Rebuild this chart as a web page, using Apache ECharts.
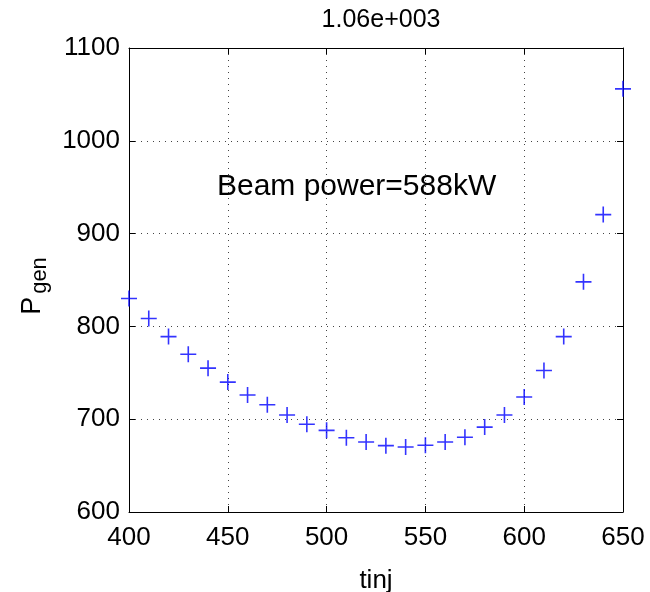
<!DOCTYPE html>
<html><head><meta charset="utf-8">
<script src="https://cdn.jsdelivr.net/npm/echarts@6/dist/echarts.min.js"></script>
<style>html,body{margin:0;padding:0;background:#fff}#c{width:650px;height:592px}</style>
</head><body><div id="c"></div>
<script>
// ---- data ----
const tinj = [400,410,420,430,440,450,460,470,480,490,500,510,520,530,540,550,560,570,580,590,600,610,620,630,640,650];
const pgen = [830,808.5,789,770,755,740,726,715.5,704.5,694.5,688,680,675.5,671.5,670,672,675.5,680.5,691.5,704.5,724,752.5,789,848,920.5,1056];
const xTickLabels = [400,450,500,550,600,650];
const yTickLabels = [600,700,800,900,1000,1100];
const titleText = '1.06e+003';
const noteText = 'Beam power=588kW';
const notePos = [444.5, 951];   // data coordinates of the text annotation
const xName = 'tinj';

const FONT = "'Liberation Sans', Arial, Helvetica, sans-serif";
const xMin = xTickLabels[0], xMax = xTickLabels[xTickLabels.length-1], xInt = xTickLabels[1]-xTickLabels[0];
const yMin = yTickLabels[0], yMax = yTickLabels[yTickLabels.length-1], yInt = yTickLabels[1]-yTickLabels[0];

const chart = echarts.init(document.getElementById('c'), null, {renderer:'canvas'});
const lineCol = '#000';
const gridLine = {show:true, lineStyle:{color:'#444', width:1, type:[1,5]}};
const baseAxis = (extra) => Object.assign({
  type:'value',
  axisLine:{show:true, onZero:false, lineStyle:{color:lineCol, width:1}},
  axisTick:{show:true, inside:true, length:6, lineStyle:{color:lineCol, width:1}},
}, extra);
const plain = v => String(v);

chart.setOption({
  animation:false,
  backgroundColor:'#fff',
  textStyle:{fontFamily:FONT},
  title:{text:titleText, left:376, textAlign:'center', top:3,
    textStyle:{fontFamily:FONT, fontSize:25, fontWeight:'normal', color:'#000'}},
  grid:{left:129, right:27, top:48, bottom:80, containLabel:false, outerBoundsMode:'none'},
  xAxis:[
    baseAxis({position:'bottom', min:xMin, max:xMax, interval:xInt,
      axisLabel:{fontSize:26, color:'#000', margin:13, fontFamily:FONT, formatter:plain},
      splitLine:gridLine,
      name:xName, nameLocation:'middle', nameGap:56,
      nameTextStyle:{fontSize:26, color:'#000', fontFamily:FONT}}),
    baseAxis({position:'top', min:xMin, max:xMax, interval:xInt,
      axisLabel:{show:false}, splitLine:{show:false}})
  ],
  yAxis:[
    baseAxis({position:'left', min:yMin, max:yMax, interval:yInt,
      axisLabel:{fontSize:26, color:'#000', margin:9, fontFamily:FONT, formatter:plain},
      splitLine:gridLine,
      name:'{p|P}{s|gen}', nameLocation:'middle', nameGap:64, nameRotate:90,
      nameTextStyle:{
        padding:[0,12,0,0],
        rich:{
          p:{fontSize:27, color:'#000', fontFamily:FONT, lineHeight:30, verticalAlign:'top'},
          s:{fontSize:22, color:'#000', fontFamily:FONT, lineHeight:30, verticalAlign:'top', padding:[10,0,0,3]}
        }
      }}),
    baseAxis({position:'right', min:yMin, max:yMax, interval:yInt,
      axisLabel:{show:false}, splitLine:{show:false}})
  ],
  series:[{
    type:'scatter',
    xAxisIndex:0, yAxisIndex:0,
    data:tinj.map((t,i)=>[t,pgen[i]]),
    symbol:'path://M0,8L16,8M8,0L8,16',
    symbolSize:16,
    clip:false,
    itemStyle:{color:'transparent', borderColor:'#0000ff', borderWidth:1.6},
    emphasis:{disabled:true}
  }]
});

const p = chart.convertToPixel({gridIndex:0}, notePos);
chart.setOption({
  graphic:[{type:'text', x:p[0], y:p[1],
    style:{text:noteText, fontSize:30, fontFamily:FONT, fill:'#000', textAlign:'left', textVerticalAlign:'middle'}}]
});
</script>
</body></html>
